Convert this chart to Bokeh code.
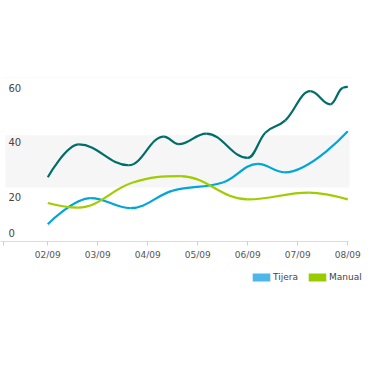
from bokeh.plotting import figure
from bokeh.layouts import column
from bokeh.models import Range1d, FixedTicker, BoxAnnotation, Legend, LegendItem
from bokeh.embed import file_html
from bokeh.resources import INLINE
from bokeh.core.properties import value

# ---- data (x in days from 02/09) ----
date_labels = ["02/09", "03/09", "04/09", "05/09", "06/09", "07/09", "08/09"]
date_pos = [0, 1, 2, 3, 4, 5, 6]
axis_start_tick = -0.88

total_x = [0.0, 0.62, 1.62, 2.32, 2.62, 3.17, 4.0, 4.35, 4.75, 5.25, 5.65, 5.9, 6.0]
total_y = [23.5, 35.5, 27.9, 38.4, 35.6, 39.5, 30.6, 39.8, 44.3, 55.0, 50.2, 56.2, 56.6]

tijera_x = [0.0, 0.86, 1.65, 2.5, 3.5, 4.2, 4.74, 6.0]
tijera_y = [6.3, 15.9, 12.2, 18.6, 21.6, 28.4, 25.3, 40.3]

manual_x = [0.0, 0.6, 1.7, 2.65, 4.0, 5.22, 6.0]
manual_y = [14.1, 12.4, 21.6, 23.9, 15.4, 17.9, 15.4]

series_names = ["Tijera", "Manual"]

y_ticks = [0, 20, 40, 60]
y_labels = ["0", "20", "40", "60"]
band_low, band_high = 19.8, 38.9


def spline_segments(xs, ys, smoothing=1.5):
    """Highcharts-style spline control points, returned as bezier segments."""
    n = len(xs)
    denom = smoothing + 1
    lc = [(xs[i], ys[i]) for i in range(n)]
    rc = [(xs[i], ys[i]) for i in range(n)]
    for i in range(1, n - 1):
        px, py = xs[i], ys[i]
        lx, ly = xs[i - 1], ys[i - 1]
        nx, ny = xs[i + 1], ys[i + 1]
        lcx = (smoothing * px + lx) / denom
        lcy = (smoothing * py + ly) / denom
        rcx = (smoothing * px + nx) / denom
        rcy = (smoothing * py + ny) / denom
        corr = 0.0
        if rcx != lcx:
            corr = ((rcy - lcy) * (rcx - px)) / (rcx - lcx) + py - rcy
        lcy += corr
        rcy += corr
        if lcy > ly and lcy > py:
            lcy = max(ly, py)
            rcy = 2 * py - lcy
        elif lcy < ly and lcy < py:
            lcy = min(ly, py)
            rcy = 2 * py - lcy
        if rcy > ny and rcy > py:
            rcy = max(ny, py)
            lcy = 2 * py - rcy
        elif rcy < ny and rcy < py:
            rcy = min(ny, py)
            lcy = 2 * py - rcy
        lc[i] = (lcx, lcy)
        rc[i] = (rcx, rcy)
    seg = dict(x0=[], y0=[], x1=[], y1=[], cx0=[], cy0=[], cx1=[], cy1=[])
    for i in range(1, n):
        seg["x0"].append(xs[i - 1]); seg["y0"].append(ys[i - 1])
        seg["x1"].append(xs[i]); seg["y1"].append(ys[i])
        seg["cx0"].append(rc[i - 1][0]); seg["cy0"].append(rc[i - 1][1])
        seg["cx1"].append(lc[i][0]); seg["cy1"].append(lc[i][1])
    return seg


px_per_day = 50.0
x_start = -47.3 / px_per_day
x_end = (369 - 47.3) / px_per_day

def px2x(px):
    return (px - 47.3) / px_per_day

p = figure(width=369, height=262, frame_width=369, frame_height=164,
           output_backend="svg", toolbar_location=None,
           x_range=Range1d(x_start, x_end), y_range=Range1d(0, 60),
           min_border_left=0, min_border_right=0, min_border_top=77,
           min_border_bottom=21)
p.outline_line_color = None
p.background_fill_color = "white"
p.border_fill_color = "white"
p.xgrid.visible = False
p.ygrid.visible = False
p.yaxis.visible = False

band = BoxAnnotation(bottom=band_low, top=band_high, left=px2x(5), right=px2x(349),
                     fill_color="#f6f6f6", fill_alpha=1.0, line_color=None, level="underlay")
p.add_layout(band)
top_line = BoxAnnotation(bottom=y_ticks[-1], top=y_ticks[-1], left=x_start, right=px2x(352),
                         fill_alpha=0, line_color="#efefef", line_width=1, level="underlay")
p.add_layout(top_line)

xa = p.xaxis[0]
xa.ticker = FixedTicker(ticks=[axis_start_tick] + date_pos)
overrides = {axis_start_tick: ""}
overrides.update({d: l for d, l in zip(date_pos, date_labels)})
xa.major_label_overrides = overrides
xa.bounds = (x_start, px2x(348))
xa.axis_line_color = "#dcdcdc"
xa.major_tick_line_color = "#cfcfcf"
xa.major_tick_out = 4
xa.major_tick_in = 0
xa.minor_tick_out = 0
xa.minor_tick_in = 0
xa.major_label_text_font = "DejaVu Sans"
xa.major_label_text_font_size = "9px"
xa.major_label_text_color = "#555555"
xa.major_label_standoff = 4

# y labels drawn inside plot area
y_off = [-9 if v == 0 else 10 for v in y_ticks]
p.text(x=[x_start] * len(y_ticks), y=y_ticks, text=y_labels, x_offset=8, y_offset=y_off,
       text_align="left", text_baseline="middle", text_font=value("DejaVu Sans"),
       text_font_size="10px", text_color="#444444")

for xs, ys, col in [(total_x, total_y, "#006e68"),
                    (tijera_x, tijera_y, "#00a6d6"),
                    (manual_x, manual_y, "#a0cc00")]:
    s = spline_segments(xs, ys)
    p.bezier(x0=s["x0"], y0=s["y0"], x1=s["x1"], y1=s["y1"],
             cx0=s["cx0"], cy0=s["cy0"], cx1=s["cx1"], cy1=s["cy1"],
             line_color=col, line_width=2.2)

# ---- legend strip below the chart ----
lf = figure(width=369, height=104, output_backend="svg", toolbar_location=None,
            x_range=Range1d(0, 1), y_range=Range1d(0, 1),
            min_border_left=0, min_border_right=0, min_border_top=0, min_border_bottom=0)
lf.outline_line_color = None
lf.axis.visible = False
lf.grid.visible = False

nan = float("nan")
sw_t = lf.quad(left=[nan], right=[nan], top=[nan], bottom=[nan], fill_color="#4db6ea", line_color=None)
sw_m = lf.quad(left=[nan], right=[nan], top=[nan], bottom=[nan], fill_color="#99cc00", line_color=None)

legend = Legend(items=[LegendItem(label=series_names[0], renderers=[sw_t]),
                       LegendItem(label=series_names[1], renderers=[sw_m])],
                orientation="horizontal", location=(250, 84),
                padding=0, margin=0, spacing=8, label_standoff=1,
                glyph_width=22, glyph_height=10, label_height=10,
                border_line_color=None, background_fill_alpha=0,
                label_text_font="DejaVu Sans", label_text_font_size="9px",
                label_text_color="#444444")
lf.add_layout(legend)

open("out.html", "w").write(file_html(column(p, lf, spacing=0), INLINE))
